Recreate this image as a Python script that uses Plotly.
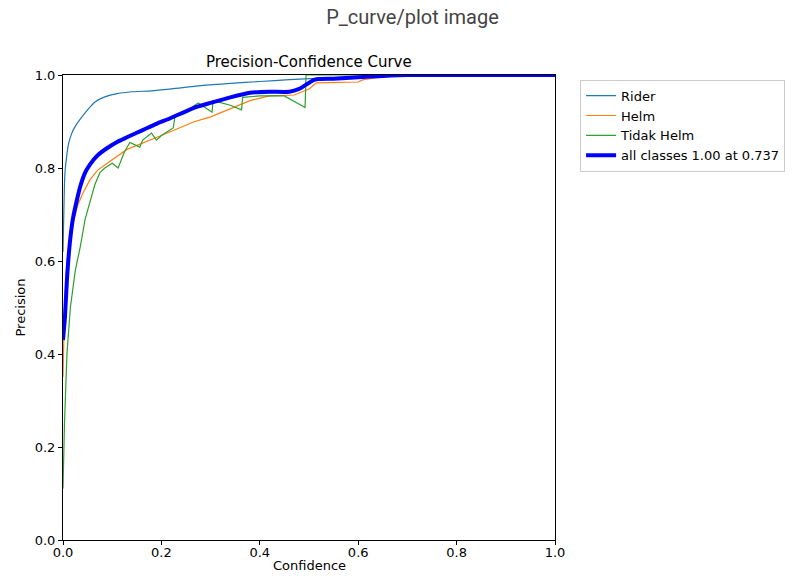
import plotly.graph_objects as go

rider_c = [0, 0.002, 0.004, 0.008, 0.012, 0.018, 0.024, 0.035, 0.05, 0.065, 0.085, 0.11, 0.14, 0.18, 0.22, 0.28, 0.34, 0.4, 0.46, 0.52, 0.6, 0.7, 0.8, 1.0]
rider_p = [0.62, 0.72, 0.79, 0.83, 0.855, 0.875, 0.888, 0.905, 0.925, 0.942, 0.953, 0.96, 0.964, 0.966, 0.97, 0.977, 0.982, 0.986, 0.99, 0.993, 0.996, 0.999, 1.0, 1.0]

helm_c = [0, 0.003, 0.008, 0.014, 0.02, 0.03, 0.04, 0.055, 0.07, 0.09, 0.13, 0.2, 0.265, 0.3, 0.335, 0.38, 0.42, 0.47, 0.5, 0.515, 0.6, 0.61, 0.68, 1.0]
helm_p = [0.35, 0.5, 0.6, 0.64, 0.68, 0.72, 0.745, 0.775, 0.795, 0.81, 0.84, 0.87, 0.899, 0.91, 0.925, 0.945, 0.955, 0.957, 0.97, 0.983, 0.985, 0.99, 1.0, 1.0]

tidak_c = [0, 0.003, 0.008, 0.015, 0.025, 0.035, 0.045, 0.055, 0.065, 0.075, 0.085, 0.1, 0.112, 0.125, 0.136, 0.156, 0.162, 0.18, 0.19, 0.2, 0.224, 0.228, 0.25, 0.268, 0.275, 0.303, 0.305, 0.34, 0.363, 0.365, 0.4, 0.45, 0.492, 0.494, 1.0]
tidak_p = [0.11, 0.25, 0.4, 0.5, 0.58, 0.63, 0.69, 0.73, 0.765, 0.79, 0.8, 0.81, 0.8, 0.835, 0.855, 0.845, 0.86, 0.875, 0.86, 0.87, 0.886, 0.914, 0.92, 0.935, 0.94, 0.92, 0.945, 0.935, 0.925, 0.952, 0.955, 0.955, 0.93, 1.0, 1.0]

all_c = [0, 0.004, 0.008, 0.014, 0.02, 0.028, 0.035, 0.045, 0.055, 0.07, 0.09, 0.11, 0.13, 0.163, 0.19, 0.218, 0.265, 0.3, 0.34, 0.38, 0.42, 0.46, 0.48, 0.512, 0.55, 0.6, 0.65, 0.7, 1.0]
all_p = [0.43, 0.48, 0.56, 0.64, 0.69, 0.73, 0.76, 0.79, 0.808, 0.827, 0.843, 0.856, 0.866, 0.882, 0.895, 0.907, 0.929, 0.94, 0.952, 0.962, 0.964, 0.964, 0.97, 0.99, 0.992, 0.995, 0.998, 1.0, 1.0]

tick_vals = [0.0, 0.2, 0.4, 0.6, 0.8, 1.0]
tick_text = ["0.0", "0.2", "0.4", "0.6", "0.8", "1.0"]

mpl_font = "DejaVu Sans"

fig = go.Figure()
fig.add_trace(go.Scatter(x=rider_c, y=rider_p, mode="lines", name="Rider",
                         line=dict(color="#1f77b4", width=1.2, shape="spline", smoothing=0.8)))
fig.add_trace(go.Scatter(x=helm_c, y=helm_p, mode="lines", name="Helm",
                         line=dict(color="#ff7f0e", width=1.2)))
fig.add_trace(go.Scatter(x=tidak_c, y=tidak_p, mode="lines", name="Tidak Helm",
                         line=dict(color="#2ca02c", width=1.2)))
fig.add_trace(go.Scatter(x=all_c, y=all_p, mode="lines", name="all classes 1.00 at 0.737",
                         line=dict(color="blue", width=4, shape="spline", smoothing=0.6)))

axis_common = dict(
    range=[0, 1], tickvals=tick_vals, ticktext=tick_text, automargin=False,
    showgrid=False, zeroline=False, showline=True, linecolor="black", linewidth=1,
    mirror=True, ticks="outside", ticklen=4, tickcolor="black",
    tickfont=dict(family=mpl_font, size=13, color="black"),
)

fig.update_layout(
    width=801, height=579,
    margin=dict(l=63, r=246, t=75, b=39),
    paper_bgcolor="white", plot_bgcolor="white",
    title=dict(text="P_curve/plot image", x=0.515, xanchor="center", y=0.97, yanchor="middle",
               font=dict(family="Roboto", size=20, color="#444444")),
    xaxis=dict(**axis_common, ticklabelstandoff=-4),
    yaxis=dict(**axis_common),
    legend=dict(x=1.051, y=0.99, xanchor="left", yanchor="top",
                bgcolor="white", bordercolor="#cccccc", borderwidth=1,
                font=dict(family=mpl_font, size=13, color="black"),
                tracegroupgap=0, itemwidth=30),
    showlegend=True,
    annotations=[
        dict(text="Precision-Confidence Curve", x=0.5, y=1.0, xref="paper", yref="paper",
             xanchor="center", yanchor="bottom", yshift=2, showarrow=False,
             font=dict(family=mpl_font, size=15, color="black")),
        dict(text="Confidence", x=0.5, y=0.0, xref="paper", yref="paper",
             xanchor="center", yanchor="middle", yshift=-25, showarrow=False,
             font=dict(family=mpl_font, size=13, color="black")),
        dict(text="Precision", x=0.0, y=0.5, xref="paper", yref="paper", textangle=-90,
             xanchor="center", yanchor="middle", xshift=-43, showarrow=False,
             font=dict(family=mpl_font, size=13, color="black")),
    ],
)

fig.write_html("out.html")
